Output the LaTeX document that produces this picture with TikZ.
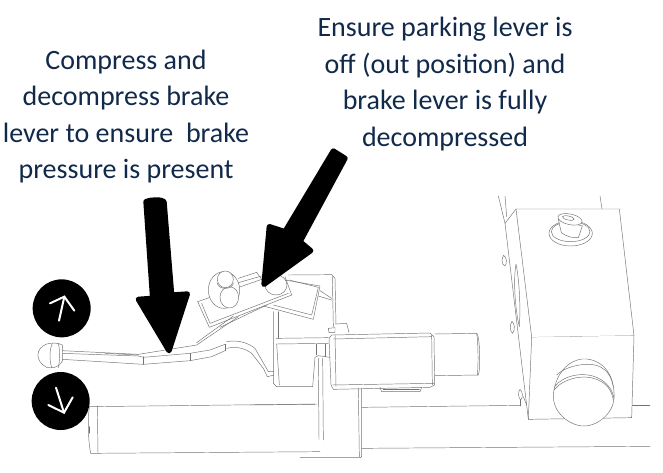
\documentclass[tikz,border=0pt]{standalone}
\usepackage{fontspec}
\setmainfont{Carlito}
\definecolor{navy}{HTML}{11294A}
\tikzset{
  zA/.style={shift={(20,240)},x=.25pt,y=-.25pt},
  zB/.style={shift={(330,190)},x=.25pt,y=-.25pt},
  zC/.style={shift={(250,270)},x=.25pt,y=-.25pt},
  zE/.style={shift={(25,320)},x=.25pt,y=-.25pt},
  zT/.style={shift={(190,140)},x=.25pt,y=-.25pt},
  sketch/.style={draw=black!55,line width=.35pt,line join=round,line cap=round,fill=none},
  caption/.style={text=navy,align=center,font=\fontsize{21}{27.4}\selectfont,anchor=center},
  bigarrow/.style={fill=black,draw=black,line width=4pt,line join=round},
  badge/.style={fill=black,draw=none},
  whitearrow/.style={draw=white,line width=1.5pt,line cap=round,line join=miter}
}
\begin{document}
\begin{tikzpicture}[x=.75pt,y=-.75pt]
\useasboundingbox (0,0) rectangle (663,472);
% grip, bracket, housing
\begin{scope}[zA]
  \draw[sketch] (890,492) -- (208,500) .. controls (203,540) and (204,600) .. (212,640) -- (900,635);
  \draw[sketch] (232,497) -- (234,640);
  \draw[sketch] (209,560) -- (209,580);
  % lever end and hook
  \draw[sketch] (620,305) .. controls (650,300) and (680,305) .. (705,325) -- (745,395) -- (762,395);
  \draw[sketch] (620,325) .. controls (650,318) and (675,325) .. (695,340) -- (730,385) -- (742,410) -- (762,405);
  % parking lever plate
  \draw[sketch] (533,185) -- (725,118);
  \draw[sketch] (533,185) -- (568,262) -- (815,165) -- (795,110);
  \draw[sketch] (545,190) -- (570,250) -- (805,160);
  \draw[sketch] (655,115) -- (710,97) -- (725,118);
  \draw[sketch] (655,128) -- (725,108);
  % knob on plate
  \draw[sketch,fill=white] (612,150) ellipse [x radius=47,y radius=55];
  \draw[sketch,fill=white] (628,172) ellipse [x radius=28,y radius=32];
  \draw[sketch,fill=white] (616,118) ellipse [x radius=24,y radius=25];
  \draw[sketch] (592,130) .. controls (596,150) and (636,150) .. (640,130);
  % ball
  \draw[sketch,fill=white] (768,135) ellipse [x radius=33,y radius=30];
  % lever arm up
  \draw[sketch] (740,195) -- (600,262);
\end{scope}
\begin{scope}[zC]
  % upper block and right plate
  \draw[sketch] (115,15) -- (245,14) -- (255,25) -- (258,165);
  \draw[sketch] (247,20) -- (250,170);
  \draw[sketch] (210,62) -- (245,85);
  \draw[sketch] (205,78) -- (245,90);
  \draw[sketch] (105,30) -- (210,48) -- (190,148) -- (40,108);
  \draw[sketch] (118,30) -- (205,52) -- (185,135) -- (70,105);
  % housing
  \draw[sketch] (70,125) -- (70,340) -- (80,350) -- (188,350) -- (195,262) -- (205,257) -- (240,262);
  \draw[sketch] (85,125) -- (85,205);
  \draw[sketch] (78,205) -- (235,203);
  \draw[sketch] (78,222) -- (235,220);
  \draw[sketch] (80,222) -- (88,345);
  \draw[sketch] (200,222) -- (200,255);
  \draw[sketch] (225,222) -- (225,260);
  \draw[sketch] (205,265) -- (207,510);
  \draw[sketch] (218,265) -- (220,510);
  \draw[sketch] (0,405) -- (195,403);
  % small tab
  \draw[sketch] (258,162) -- (290,160) -- (297,188);
  \draw[sketch] (235,175) -- (255,173) -- (255,188) -- (237,188) -- cycle;
  % switch block
  \draw[sketch] (245,195) -- (540,189) -- (552,200) -- (554,345) -- (540,352) -- (250,358) -- (243,345) -- (237,205) -- cycle;
  \draw[sketch] (250,207) -- (545,200);
  \draw[sketch] (255,195) -- (258,350);
  \draw[sketch] (245,345) -- (552,340);
  \draw[sketch] (545,195) -- (547,345);
  % cylinder
  \draw[sketch] (552,192) -- (680,190) .. controls (690,195) and (692,300) .. (685,315) -- (555,317);
  \draw[sketch] (680,190) .. controls (685,220) and (685,290) .. (682,315);
  % bottom protrusion
  \draw[sketch] (390,352) -- (395,365) -- (510,365) -- (515,352);
  \draw[sketch] (400,358) -- (508,358);
\end{scope}
\begin{scope}[zB]
  % bracket
  \draw[sketch] (-90,803) -- (90,803) -- (95,800) -- (95,595);
  \draw[sketch] (85,595) -- (88,800);
  % rail
  \draw[sketch] (95,652) -- (570,646);
  \draw[sketch] (95,775) -- (960,769);
  \draw[sketch] (905,646) -- (960,646);
  % box
  \draw[sketch] (505,18) -- (525,100);
  \draw[sketch] (525,18) -- (530,80);
  \draw[sketch] (810,18) -- (816,57);
  \draw[sketch,fill=white] (558,57) -- (868,57) -- (912,437) -- (605,442) -- cycle;
  \draw[sketch,fill=white] (605,442) -- (595,688) -- (905,683) -- (912,437);
  \draw[sketch] (558,57) -- (525,100) -- (595,688);
  \draw[sketch] (558,222) .. controls (548,280) and (558,370) .. (568,410) .. controls (572,350) and (568,270) .. (558,222);
  \draw[sketch] (521,196) .. controls (513,205) and (515,225) .. (525,228) .. controls (532,220) and (530,200) .. (521,196);
  \draw[sketch] (546,394) .. controls (538,405) and (540,425) .. (548,430) .. controls (556,420) and (554,400) .. (546,394);
  \draw[sketch] (570,598) .. controls (563,605) and (565,625) .. (572,630) .. controls (580,622) and (578,604) .. (570,598);
  \draw[sketch] (570,630) -- (570,648);
  \draw[sketch] (580,620) -- (590,645);
  % top knob
  \draw[sketch] (722,130) ellipse [x radius=65,y radius=38];
  \draw[sketch] (722,125) ellipse [x radius=58,y radius=30];
  \draw[sketch,fill=white] (685,88) -- (694,128) .. controls (710,140) and (730,145) .. (745,143) -- (757,108) -- cycle;
  \draw[sketch,fill=white,rotate around={-12:(720,88)}] (720,88) ellipse [x radius=37,y radius=16];
  \draw[sketch,rotate around={-12:(715,84)}] (715,84) ellipse [x radius=18,y radius=6];
  % big knob
  \draw[sketch,fill=white] (672,600) .. controls (685,530) and (735,503) .. (770,507) .. controls (820,512) and (855,555) .. (852,625) .. controls (850,670) and (800,712) .. (755,708) .. controls (700,700) and (660,650) .. (672,600) -- cycle;
  \draw[sketch] (674,590) .. controls (700,555) and (760,545) .. (800,562) .. controls (830,575) and (848,600) .. (852,625);
  \draw[sketch] (672,600) .. controls (700,565) and (760,552) .. (800,568) .. controls (830,580) and (845,600) .. (850,630);
  \draw[sketch] (680,555) .. controls (710,525) and (780,515) .. (810,530) .. controls (830,540) and (845,560) .. (850,590);
\end{scope}
% lever
\begin{scope}[zE]
  \draw[sketch,fill=white] (112,75) .. controls (100,68) and (80,68) .. (65,72) .. controls (30,85) and (30,125) .. (65,142) .. controls (80,145) and (100,145) .. (113,122) -- cycle;
  \draw[sketch] (82,70) .. controls (73,90) and (73,120) .. (80,143);
  \draw[sketch] (100,70) .. controls (105,90) and (105,120) .. (100,143);
  \draw[sketch] (112,92) -- (340,103) -- (515,75);
  \draw[sketch] (112,100) -- (340,108);
  \draw[sketch] (240,100) -- (340,105);
  \draw[sketch] (112,118) -- (355,133) -- (495,122) -- (560,110) -- (600,92);
  \draw[sketch] (340,108) -- (355,112) -- (495,100) -- (555,90) -- (600,73);
  \draw[sketch] (355,110) -- (355,133);
  \draw[sketch] (495,100) -- (495,122);
  \draw[sketch] (600,73) -- (600,92);
  \draw[sketch] (515,75) -- (640,-10);
  \draw[sketch] (515,68) -- (625,-12);
\end{scope}
% captions
\node[caption] (cleft) at (126,116.5) {Compress and\\decompress brake\\lever to ensure\ \ brake\\pressure is present};
\node[caption] (cright) at (445,84) {Ensure parking lever is\\off (out position) and\\brake lever is fully\\decompressed};
% big arrows
\begin{scope}[zA]
  \fill[bigarrow] (378,-115) .. controls (395,-122) and (425,-122) .. (432,-115) -- (455,165) -- (502,162) -- (447,332) -- (355,178) -- (398,175) -- cycle;
\end{scope}
\begin{scope}[zT]
  \fill[bigarrow] (430,33) -- (465,55) -- (330,305) -- (362,332) -- (222,433) -- (238,260) -- (285,275) -- cycle;
\end{scope}
% direction badges
\begin{scope}[zA]
  \fill[badge] (125,205) circle [radius=87];
  \fill[badge] (122,483) circle [radius=87];
  \draw[whitearrow] (117,242) -- (133,170);
  \draw[whitearrow] (90,190) -- (133,170) -- (163,212);
  \draw[whitearrow] (108,443) -- (132,518);
  \draw[whitearrow] (85,495) -- (132,518) -- (158,472);
\end{scope}
\end{tikzpicture}
\end{document}
